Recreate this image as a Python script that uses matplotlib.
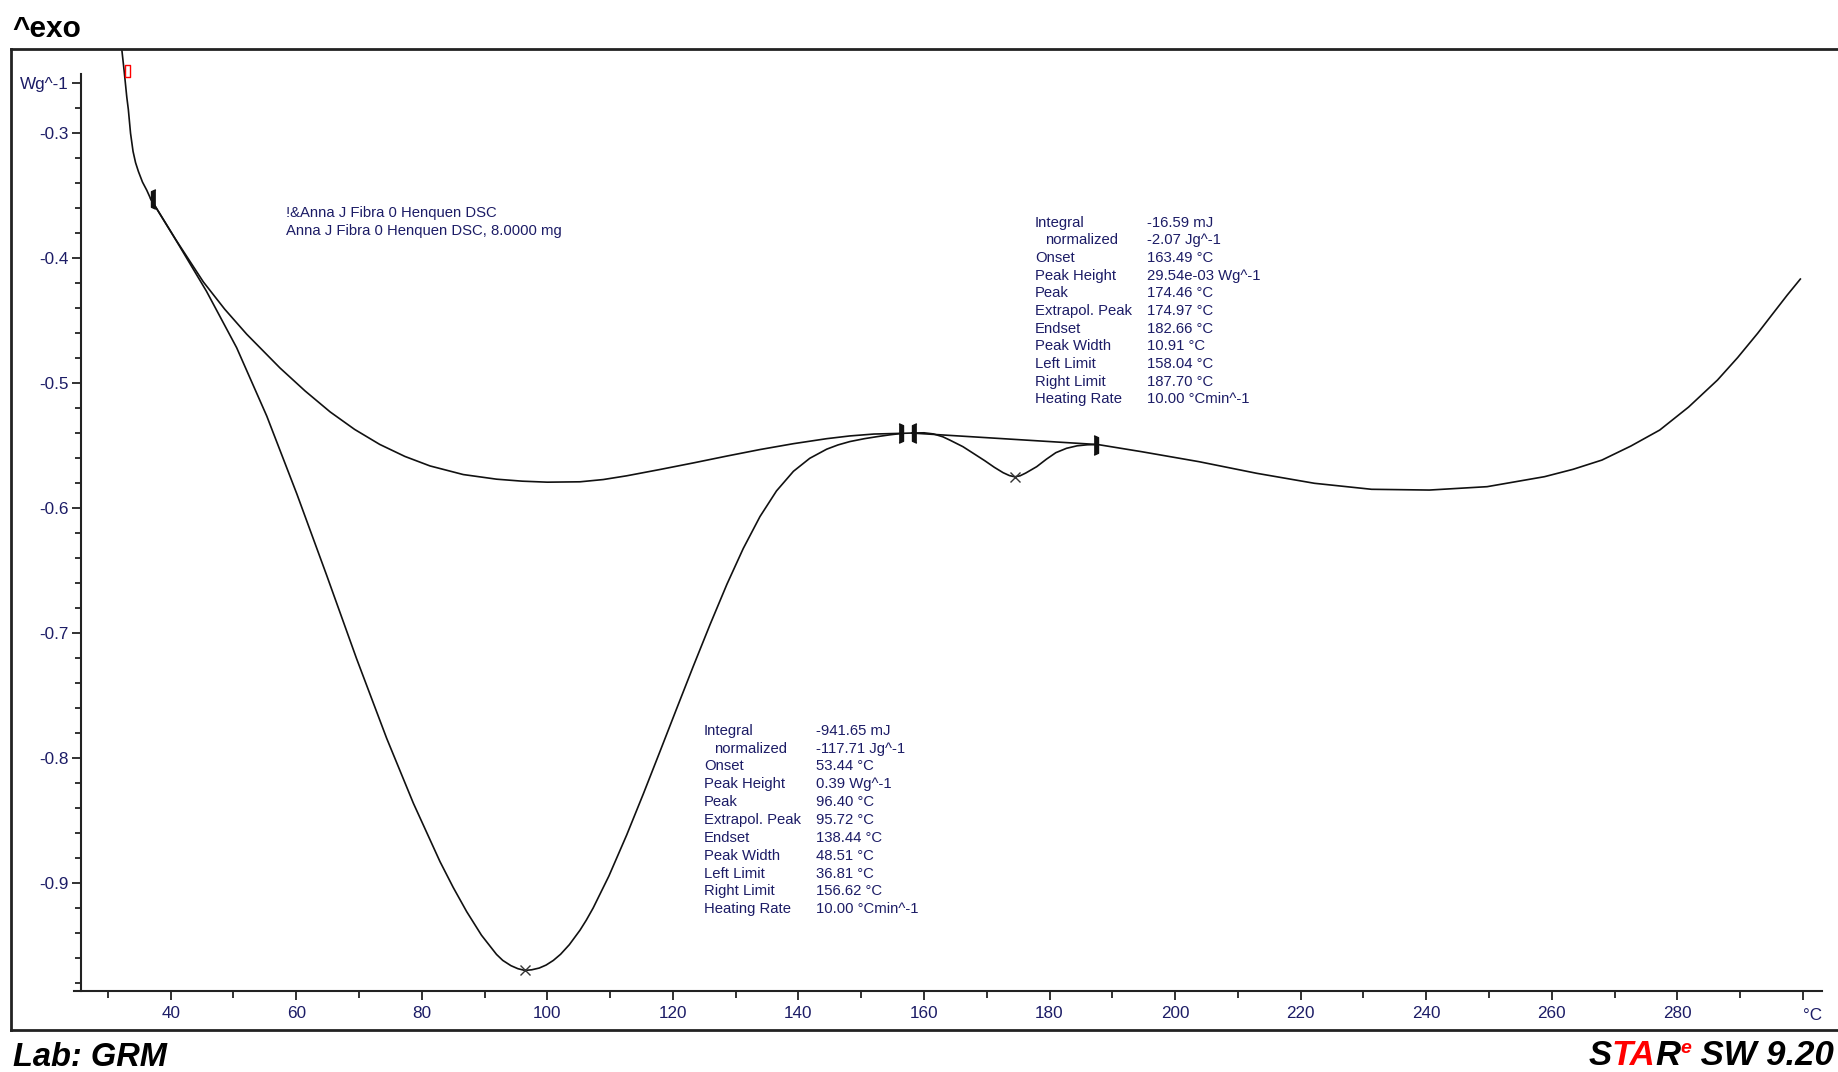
import numpy as np
import matplotlib
matplotlib.use("Agg")
import matplotlib.pyplot as plt
from matplotlib.path import Path
from matplotlib.transforms import IdentityTransform
from matplotlib.lines import Line2D

# ---------------- data ----------------
curve_temp = [32.2, 32.6, 33.0, 33.25, 33.6, 34.0, 34.4, 34.85, 35.5, 36.18, 36.81, 40.8,
              45.7, 50.5, 55.3, 60.1, 64.85, 69.6, 74.4, 78.65, 82.9, 85.0, 87.15, 89.5,
              91.9, 92.9, 94.2, 95.3, 96.4, 97.5, 98.7, 99.8, 100.95, 102.1, 103.5, 105.2,
              106.2, 107.3, 109.8, 112.64, 115.3, 117.95, 120.6, 123.25, 125.9, 128.6,
              131.2, 133.87, 136.5, 139.2, 141.8, 144.5, 146.3, 148.2, 150.5, 152.5,
              154.6, 156.62, 158.04, 160.0, 161.5, 163.0, 164.1, 166.2, 168.0, 169.7,
              171.2, 172.6, 173.6, 174.46, 175.3, 176.2, 177.95, 179.5, 181.0, 182.7,
              184.4, 186.0, 187.70, 194.65, 203.8, 213.0, 222.2, 231.3, 240.5, 249.7,
              258.85, 263.4, 268.0, 272.6, 277.2, 281.8, 286.4, 289.6, 292.8, 294.8,
              297.5, 299.6]
curve_flow = [-0.2326, -0.251, -0.271, -0.281, -0.300, -0.3145, -0.3235, -0.3305, -0.339,
              -0.3455, -0.3525, -0.3852, -0.4264, -0.4715, -0.5262, -0.5886, -0.6537,
              -0.7202, -0.7840, -0.8359, -0.8827, -0.9033, -0.9227, -0.9415, -0.9569,
              -0.9617, -0.9659, -0.9683, -0.9697, -0.9692, -0.9678, -0.9654, -0.9617,
              -0.9568, -0.9491, -0.9375, -0.9295, -0.9197, -0.8942, -0.8613, -0.8283,
              -0.7944, -0.7602, -0.7263, -0.6932, -0.6608, -0.6322, -0.6066, -0.5861,
              -0.5704, -0.5600, -0.5527, -0.5493, -0.5466, -0.5443, -0.5427, -0.5412,
              -0.5400, -0.5398, -0.5396, -0.5405, -0.5428, -0.5454, -0.5507, -0.5565,
              -0.562, -0.5672, -0.5715, -0.5738, -0.5748, -0.5740, -0.5718, -0.5667,
              -0.5607, -0.5555, -0.5520, -0.5500, -0.5492, -0.5490, -0.5547, -0.5627,
              -0.572, -0.580, -0.5848, -0.5854, -0.5827, -0.5747, -0.5688, -0.5614,
              -0.5502, -0.5374, -0.519, -0.4974, -0.4795, -0.460, -0.447, -0.4295,
              -0.4166]

base1_temp = [36.81, 40.8, 45.2, 48.6, 52.1, 57.4, 61.4, 65.4, 69.3, 73.3, 77.3, 81.3,
              86.6, 91.9, 96.0, 100.0, 105.2, 108.9, 112.64, 118.0, 123.25, 128.6,
              133.87, 139.2, 144.5, 148.2, 152.0, 156.62]
base1_flow = [-0.3525, -0.3850, -0.4189, -0.4407, -0.4607, -0.4877, -0.5061, -0.5229,
              -0.5369, -0.5489, -0.5585, -0.5661, -0.5730, -0.5767, -0.5783, -0.5791,
              -0.5788, -0.5770, -0.5740, -0.5689, -0.5637, -0.5582, -0.5530, -0.5483,
              -0.5443, -0.5421, -0.5406, -0.5400]

base2_temp = [158.04, 187.70]
base2_flow = [-0.5398, -0.5490]

peak_temps = [96.40, 174.46]
left_limits = [36.81, 158.04]
right_limits = [156.62, 187.70]
start_marker = (32.96, -0.2503)

x_major = [40, 60, 80, 100, 120, 140, 160, 180, 200, 220, 240, 260, 280, 300]
x_labels = ["40", "60", "80", "100", "120", "140", "160", "180", "200", "220", "240",
            "260", "280", ""]
x_minor = [30, 50, 70, 90, 110, 130, 150, 170, 190, 210, 230, 250, 270, 290]
y_major = [-0.26, -0.3, -0.4, -0.5, -0.6, -0.7, -0.8, -0.9]
y_labels = ["Wg^-1", "-0.3", "-0.4", "-0.5", "-0.6", "-0.7", "-0.8", "-0.9"]
y_minor = [round(-0.98 + 0.02 * i, 2) for i in range(36)]

row_labels = ["Integral", "normalized", "Onset", "Peak Height", "Peak", "Extrapol. Peak",
              "Endset", "Peak Width", "Left Limit", "Right Limit", "Heating Rate"]
peak1_values = ["-941.65 mJ", "-117.71 Jg^-1", "53.44 °C", "0.39 Wg^-1", "96.40 °C",
                "95.72 °C", "138.44 °C", "48.51 °C", "36.81 °C", "156.62 °C",
                "10.00 °Cmin^-1"]
peak2_values = ["-16.59 mJ", "-2.07 Jg^-1", "163.49 °C", "29.54e-03 Wg^-1", "174.46 °C",
                "174.97 °C", "182.66 °C", "10.91 °C", "158.04 °C", "187.70 °C",
                "10.00 °Cmin^-1"]
sample_lines = ["!&Anna J Fibra 0 Henquen DSC", "Anna J Fibra 0 Henquen DSC, 8.0000 mg"]

# ---------------- figure ----------------
W, H = 1838, 1072
fig = plt.figure(figsize=(W / 100, H / 100), dpi=100)
fig.patch.set_facecolor("white")

TXT = "#1c1c66"
FONT = "Liberation Sans"
LINE = "#111111"

ax_l, ax_r, ax_t, ax_b = 80.7, 1822.0, 49.0, 991.0
ax = fig.add_axes([ax_l / W, 1 - ax_b / H, (ax_r - ax_l) / W, (ax_b - ax_t) / H])
ax.set_facecolor("none")
ax.set_xlim(25.66, 303.05)
ax.set_ylim(-0.98616, -0.23256)

ax.plot(curve_temp, curve_flow, color=LINE, lw=1.2, zorder=3, solid_joinstyle="round")
ax.plot(base1_temp, base1_flow, color=LINE, lw=1.2, zorder=3, solid_joinstyle="round")
ax.plot(base2_temp, base2_flow, color=LINE, lw=1.2, zorder=3)

# limit markers
right_br = Path([(-0.45, 1), (0, 0.8), (0, -0.8), (-0.45, -1)],
                [Path.MOVETO, Path.LINETO, Path.LINETO, Path.LINETO])
left_br = Path([(0.45, 1), (0, 0.8), (0, -0.8), (0.45, -1)],
               [Path.MOVETO, Path.LINETO, Path.LINETO, Path.LINETO])
for t in left_limits:
    ax.plot([t], [np.interp(t, curve_temp, curve_flow)], marker=left_br, ms=14,
            color=LINE, mew=1.0, ls="none", zorder=4)
for t in right_limits:
    ax.plot([t], [np.interp(t, curve_temp, curve_flow)], marker=right_br, ms=14,
            color=LINE, mew=1.0, ls="none", zorder=4)
for t in peak_temps:
    ax.plot([t], [np.interp(t, curve_temp, curve_flow)], marker="x", ms=7,
            color="#333333", mew=1.0, ls="none", zorder=4)
rect = Path([(-0.45, -1), (0.45, -1), (0.45, 1), (-0.45, 1), (-0.45, -1)],
            [Path.MOVETO, Path.LINETO, Path.LINETO, Path.LINETO, Path.CLOSEPOLY])
ax.plot([start_marker[0]], [start_marker[1]], marker=rect, ms=8, mfc="none",
        mec="red", mew=1.0, ls="none", zorder=5)

# spines & ticks
for s in ["top", "right"]:
    ax.spines[s].set_visible(False)
for s in ["left", "bottom"]:
    ax.spines[s].set_color("#222222")
    ax.spines[s].set_linewidth(1.5)
ax.spines["left"].set_bounds(-0.98616, -0.2526)
ax.spines["bottom"].set_bounds(24.55, 303.05)

ax.set_xticks(x_major, labels=x_labels)
ax.set_xticks(x_minor, minor=True)
ax.set_yticks(y_major, labels=y_labels)
ax.set_yticks(y_minor, minor=True)
ax.tick_params(axis="both", which="major", direction="out", length=6.5, width=1.3,
               color="#222222", labelcolor=TXT, labelsize=12.3)
ax.tick_params(axis="y", which="minor", direction="out", length=4.3, width=1.3,
               color="#222222")
ax.tick_params(axis="x", which="minor", direction="out", length=5.0, width=1.3,
               color="#222222")
ax.tick_params(axis="x", which="major", pad=4)
ax.tick_params(axis="y", which="major", pad=2)
for lab in ax.get_xticklabels() + ax.get_yticklabels():
    lab.set_fontfamily(FONT)

# outer frame
def fline(x0, y0, x1, y1, lw=2.0):
    fig.add_artist(Line2D([x0 / W, x1 / W], [1 - y0 / H, 1 - y1 / H],
                          transform=fig.transFigure, color="#222222", lw=lw))

fline(11, 49, W, 49)
fline(11, 49, 11, 1030)
fline(11, 1030, W, 1030)

ident = IdentityTransform()

def ptext(x, y, s, **kw):
    kw.setdefault("family", FONT)
    kw.setdefault("color", TXT)
    kw.setdefault("fontsize", 10.7)
    kw.setdefault("va", "center")
    return fig.text(x, H - y, s, transform=ident, **kw)

# °C unit label on the x axis
ptext(1813, 1015, "°C", fontsize=12.3, ha="center")

# sample info
ptext(286, 213.3, sample_lines[0])
ptext(286, 230.7, sample_lines[1])

# result tables
for i, (lab, v) in enumerate(zip(row_labels, peak1_values)):
    y = 730.7 + i * 17.86
    ptext(704 + (10 if lab == "normalized" else 0), y, lab)
    ptext(816, y, v)
for i, (lab, v) in enumerate(zip(row_labels, peak2_values)):
    y = 222.7 + i * 17.66
    ptext(1035 + (10 if lab == "normalized" else 0), y, lab)
    ptext(1146.7, y, v)

# header / footer
ptext(12, 37, "^exo", fontsize=21.5, fontweight="bold", color="black", va="baseline")
ptext(13, 1066, "Lab: GRM", fontsize=23.5, fontweight="bold", fontstyle="italic",
      color="black", va="baseline")

parts = [("S", "black", 25, 0), ("TA", "#ff0000", 25, 0), ("R", "black", 25, 0),
         ("e", "#ff0000", 14, 12), (" SW 9.20", "black", 25, 0)]
fig.canvas.draw()
renderer = fig.canvas.get_renderer()
objs = []
for s, c, size, dy in parts:
    t = ptext(0, 1065 - dy, s, fontsize=size, fontweight="bold", fontstyle="italic",
              color=c, va="baseline")
    objs.append(t)
widths = [t.get_window_extent(renderer).width for t in objs]
x = 1834 - sum(widths)
for t, w in zip(objs, widths):
    t.set_x(x)
    x += w

fig.savefig("out.png", dpi=100, facecolor="white")
